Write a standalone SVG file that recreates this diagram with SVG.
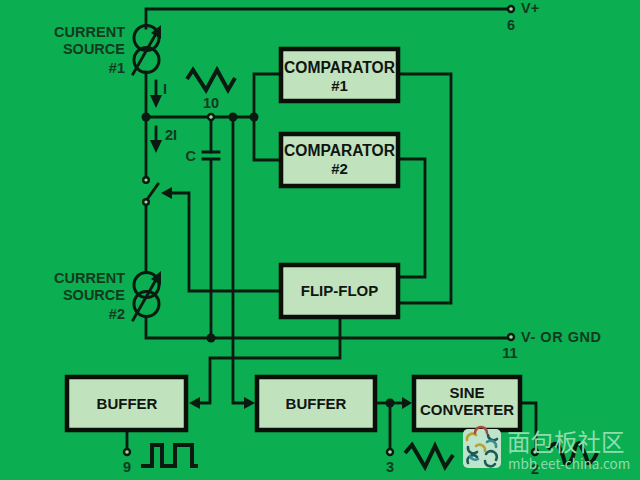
<svg xmlns="http://www.w3.org/2000/svg" width="640" height="480" viewBox="0 0 640 480">
<style>
.w{fill:none;stroke:#0a1a10;stroke-width:2.8;stroke-linecap:square}
.n{fill:#c0e2bd;stroke:#0a0f0a;stroke-width:4.5}
.t{font-family:"Liberation Sans",Arial,sans-serif;font-weight:bold;font-size:15px;fill:#101510;text-anchor:middle}
.k{font-size:15.600px}
.l{font-family:"Liberation Sans",Arial,sans-serif;font-size:14.500px;font-weight:bold;fill:#123a20;stroke:none}
.e{text-anchor:end}.m{text-anchor:middle}
.c{fill:none;stroke:#0a1a10;stroke-width:3}
.p{fill:#a5d6a5;stroke:#0a1a10;stroke-width:2.4}
.d{fill:#0a1a10;stroke:none}
.a{fill:#0a1a10;stroke:none}
.g{fill:none;stroke:#0a1a10;stroke-width:4;stroke-linejoin:miter}
.wm{font-family:"Noto Sans CJK SC","Liberation Sans",sans-serif;fill:#8fdcae}
.lg{fill:none;stroke-width:2.600;stroke-linecap:round}
</style>
<rect width="640" height="480" fill="#0bae50"/>
<g id="connectors">
<path class="w" d="M146 28V9H508"/>
<path class="w" d="M146 72V178"/>
<path class="w" d="M146 117H254"/>
<path class="w" d="M280 74H254V160H280"/>
<path class="w" d="M211 119V152M211 160V338"/>
<path class="w" d="M233 117V403H246"/>
<path class="w" d="M146 205V272M146 318V338H508"/>
<path class="w" d="M400 74H451V303H400"/>
<path class="w" d="M400 159H425V277H400"/>
<path class="w" d="M279 291H189V193H170"/>
<path class="w" d="M340 319V358H210V403H198"/>
<path class="w" d="M127 432V449"/>
<path class="w" d="M377 403H404"/>
<path class="w" d="M390 403V449"/>
<path class="w" d="M522 403H536V449"/>
<path class="a" d="M255 403L244 397V409Z"/>
<path class="a" d="M189 403L200 397V409Z"/>
<path class="a" d="M412 403L402 397V409Z"/>
<path class="a" d="M161 193L172 187V199Z"/>
<path class="w" d="M156 81V100"/>
<path class="a" d="M156 108L150 95H162Z"/>
<path class="w" d="M156 127V143"/>
<path class="a" d="M156 153L150 140H162Z"/>
<circle class="d" cx="146" cy="117" r="4.500"/>
<circle class="d" cx="233" cy="117" r="4.500"/>
<circle class="d" cx="254" cy="117" r="4.500"/>
<circle class="d" cx="211" cy="338" r="4.500"/>
<circle class="d" cx="390" cy="403" r="4.500"/>
</g>
<g id="current-source-1">
<circle class="c" cx="146.500" cy="38" r="12.500"/>
<circle class="c" cx="146.500" cy="60" r="12.500"/>
<path class="w" d="M133 74L157 32"/>
<path class="a" d="M161 25L161 39L151 33Z"/>
<text class="l e" x="125" y="37">CURRENT</text>
<text class="l e" x="125" y="54">SOURCE</text>
<text class="l e" x="125" y="73">#1</text>
</g>
<g id="current-source-2">
<circle class="c" cx="146.500" cy="285" r="12.500"/>
<circle class="c" cx="146.500" cy="304" r="12.500"/>
<path class="w" d="M133 320L157 278"/>
<path class="a" d="M161 271L161 285L151 279Z"/>
<text class="l e" x="125" y="283">CURRENT</text>
<text class="l e" x="125" y="300">SOURCE</text>
<text class="l e" x="125" y="319">#2</text>
</g>
<g id="switch">
<path class="w" d="M148 198L158 184"/>
<circle class="p" cx="146" cy="180" r="2.800"/>
<circle class="p" cx="146" cy="202" r="2.800"/>
</g>
<g id="capacitor">
<path class="w" d="M203 152H219M203 159H219"/>
<text class="l e" x="196" y="161">C</text>
</g>
<g id="comparator-1">
<rect class="n" x="281" y="49" width="117" height="52"/>
<text class="t k" x="339.500" y="73">COMPARATOR</text>
<text class="t" x="339.500" y="91">#1</text>
</g>
<g id="comparator-2">
<rect class="n" x="281" y="134" width="117" height="52"/>
<text class="t k" x="339.500" y="156">COMPARATOR</text>
<text class="t" x="339.500" y="174">#2</text>
</g>
<g id="flip-flop">
<rect class="n" x="281" y="265" width="117" height="52"/>
<text class="t" x="339.500" y="296">FLIP-FLOP</text>
</g>
<g id="buffer-1">
<rect class="n" x="67" y="377" width="119" height="53"/>
<text class="t" x="127" y="409">BUFFER</text>
</g>
<g id="buffer-2">
<rect class="n" x="257" y="377" width="118" height="53"/>
<text class="t" x="316" y="409">BUFFER</text>
</g>
<g id="sine-converter">
<rect class="n" x="414" y="377" width="106" height="53"/>
<text class="t" x="467" y="398">SINE</text>
<text class="t" x="467" y="415">CONVERTER</text>
</g>
<g id="pin-6"><circle class="p" cx="511" cy="9" r="3"/><text class="l m" x="511" y="30">6</text><text class="l" x="521" y="13">V+</text></g>
<g id="pin-11"><circle class="p" cx="511" cy="337" r="3"/><text class="l m" x="510" y="358">11</text><text class="l" x="521" y="342" textLength="80">V- OR GND</text></g>
<g id="pin-10"><circle class="p" cx="211" cy="117" r="3"/><text class="l m" x="211" y="108">10</text></g>
<g id="pin-9"><circle class="p" cx="127" cy="452" r="3"/><text class="l m" x="127" y="472">9</text></g>
<g id="pin-3"><circle class="p" cx="390" cy="452" r="3"/><text class="l m" x="390" y="472">3</text></g>
<g id="pin-2"><circle class="p" cx="535" cy="452" r="3"/><text class="l m" x="535" y="474">2</text></g>
<g id="labels">
<text class="l" x="163" y="94">I</text>
<text class="l" x="165" y="140">2I</text>
</g>
<g id="waveforms">
<path class="g" d="M187 79L193 70L206 90L217 70L228 90L235 78"/>
<path class="g" d="M141 466H152V445H162V466H175V445H192V466H198"/>
<path class="g" d="M405 453L412 445L425 467L435 446L445 467L453 455"/>
<path class="g" d="M548 449Q553 443 557 444Q561 448 565 463Q571 466 574 452Q576 443 579 443Q584 450 588 463Q592 464 597 453" stroke-width="3"/>
</g>
<g id="watermark">
<rect x="463" y="429" width="38" height="39" rx="5" fill="#bfe4cc"/>
<path class="lg" stroke="#b5a23a" d="M467 440a5.500 5.500 0 0 1 9 -5M476 446a5.500 5.500 0 0 1 9 5"/>
<path class="lg" stroke="#a84a3c" d="M475 433a6 6 0 0 1 12 0"/>
<path class="lg" stroke="#1d5a56" d="M488 435a5.500 5.500 0 0 0 9 4M468 447a5.500 5.500 0 0 0 9 5M486 454a5.500 5.500 0 0 1 10 6M468 463a5.500 5.500 0 0 1 9 -6M485 461a5.500 5.500 0 0 0 10 3"/>
<path class="lg" stroke="#3d8a8f" d="M487 442a5.500 5.500 0 0 1 9 5M470 456a5.500 5.500 0 0 0 8 3"/>
<text class="wm" x="507" y="451" font-size="23.500">面包板社区</text>
<text class="wm" x="508" y="469" font-size="13.500" font-family="Liberation Sans">mbb.eet-china.com</text>
</g>
</svg>
